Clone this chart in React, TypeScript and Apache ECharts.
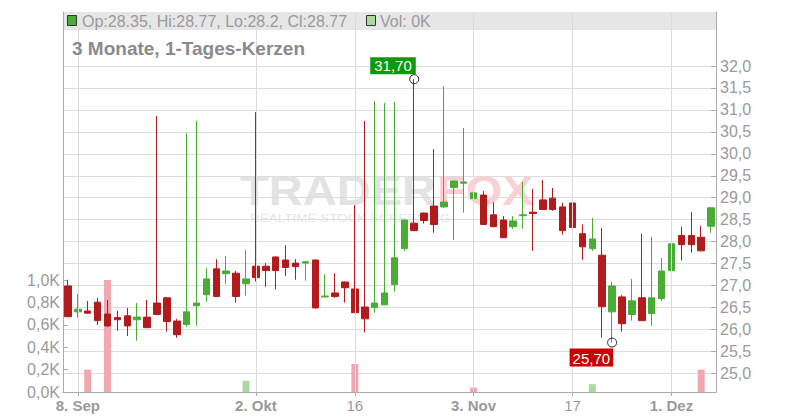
import React, { useEffect, useRef } from "react";
import * as echarts from "echarts";

// ---- data ----
const dates: string[] = [
  "2025-09-05",
  "2025-09-08", "2025-09-09", "2025-09-10", "2025-09-11", "2025-09-12",
  "2025-09-15", "2025-09-16", "2025-09-17", "2025-09-18", "2025-09-19",
  "2025-09-22", "2025-09-23", "2025-09-24", "2025-09-25", "2025-09-26",
  "2025-09-29", "2025-09-30", "2025-10-01", "2025-10-02", "2025-10-03",
  "2025-10-06", "2025-10-07", "2025-10-08", "2025-10-09", "2025-10-10",
  "2025-10-13", "2025-10-14", "2025-10-15", "2025-10-16", "2025-10-17",
  "2025-10-20", "2025-10-21", "2025-10-22", "2025-10-23", "2025-10-24",
  "2025-10-27", "2025-10-28", "2025-10-29", "2025-10-30", "2025-10-31",
  "2025-11-03", "2025-11-04", "2025-11-05", "2025-11-06", "2025-11-07",
  "2025-11-10", "2025-11-11", "2025-11-12", "2025-11-13", "2025-11-14",
  "2025-11-17", "2025-11-18", "2025-11-19", "2025-11-20", "2025-11-21",
  "2025-11-24", "2025-11-25", "2025-11-26", "2025-11-27", "2025-11-28",
  "2025-12-01", "2025-12-02", "2025-12-03", "2025-12-04", "2025-12-05",
];

const opens: number[] = [
  26.99, 26.40, 26.42, 26.62, 26.35, 26.27, 26.31, 26.22, 26.28, 26.60,
  26.72, 26.19, 26.11, 26.54, 26.79, 27.38, 27.27, 27.28, 27.04, 27.44,
  27.44, 27.65, 27.58, 27.51, 27.51, 27.58, 26.74, 26.83, 27.08, 26.92,
  26.51, 26.50, 26.56, 27.02, 27.84, 28.42, 28.65, 28.81, 28.79, 29.23,
  29.33, 28.98, 29.06, 28.61, 28.49, 28.34, 28.59, 28.67, 28.95, 28.99,
  28.79, 28.88, 28.18, 27.84, 27.69, 26.40, 26.74, 26.34, 26.72, 26.36,
  26.70, 27.34, 28.14, 28.14, 28.10, 28.35,
];
const closes: number[] = [
  26.29, 26.46, 26.37, 26.20, 26.08, 26.22, 26.08, 26.28, 26.04, 26.34,
  26.18, 25.88, 26.40, 26.60, 27.15, 26.75, 27.33, 26.75, 27.15, 27.18,
  27.34, 27.34, 27.41, 27.43, 27.54, 26.49, 26.76, 26.75, 26.95, 26.38,
  26.24, 26.60, 26.83, 27.63, 28.49, 28.25, 28.48, 28.39, 28.90, 29.38,
  29.36, 29.11, 28.39, 28.34, 28.09, 28.47, 28.61, 28.64, 28.73, 28.73,
  28.25, 28.32, 27.88, 28.06, 26.52, 26.99, 26.13, 26.65, 26.20, 26.72,
  27.33, 27.95, 27.93, 27.93, 27.79, 28.77,
];
const lows: number[] = [
  26.28, 26.27, 26.36, 26.10, 26.06, 25.97, 25.85, 25.74, 26.03, 26.33,
  25.95, 25.81, 26.06, 26.08, 26.63, 26.74, 27.04, 26.61, 26.77, 27.09,
  26.97, 26.91, 27.22, 27.13, 27.11, 26.47, 26.72, 26.72, 26.61, 26.37,
  25.93, 26.38, 26.55, 26.86, 27.79, 28.24, 28.41, 28.20, 28.77, 28.04,
  28.66, 28.86, 28.38, 28.33, 28.08, 28.29, 28.29, 27.79, 28.72, 28.70,
  28.16, 28.07, 27.59, 27.79, 25.81, 25.70, 25.95, 26.20, 26.19, 26.08,
  26.65, 27.29, 27.57, 27.75, 27.78, 28.20,
];
const highs: number[] = [
  27.13, 26.81, 26.65, 26.72, 26.67, 26.42, 26.49, 26.60, 26.67, 30.86,
  26.74, 26.24, 30.47, 30.75, 27.40, 27.60, 27.67, 27.33, 27.81, 30.95,
  27.51, 27.66, 27.92, 27.60, 27.55, 27.59, 27.26, 27.28, 27.09, 28.83,
  30.75, 31.20, 31.16, 31.18, 28.50, 31.70, 28.66, 30.11, 31.54, 29.39,
  30.59, 30.52, 29.15, 28.90, 28.58, 28.58, 29.36, 29.20, 29.40, 29.22,
  28.88, 28.90, 28.39, 28.54, 28.31, 27.08, 26.78, 27.15, 28.18, 28.11,
  27.63, 28.27, 28.34, 28.67, 28.36, 28.77,
];
// volume in thousands
const volumes: number[] = [
  0, 0, 0.2, 0, 1.0, 0, 0, 0, 0, 0,
  0, 0, 0, 0, 0, 0, 0, 0, 0.1, 0,
  0, 0, 0, 0, 0, 0, 0, 0, 0, 0.25,
  0, 0, 0, 0, 0, 0, 0, 0, 0, 0,
  0, 0.04, 0, 0, 0, 0, 0, 0, 0, 0,
  0, 0, 0, 0.07, 0, 0, 0, 0, 0, 0,
  0, 0, 0, 0, 0.2, 0,
];

const tickLabels: Record<string, string> = {
  "2025-09-08": "8. Sep",
  "2025-10-02": "2. Okt",
  "2025-10-16": "16",
  "2025-11-03": "3. Nov",
  "2025-11-17": "17",
  "2025-12-01": "1. Dez",
};
const boldTicks: string[] = ["2025-09-08", "2025-10-02", "2025-11-03", "2025-12-01"];

const highMark = { date: "2025-10-24", value: 31.7, text: "31,70" };
const lowMark = { date: "2025-11-21", value: 25.7, text: "25,70" };

const header = "Op:28.35, Hi:28.77, Lo:28.2, Cl:28.77";
const volHeader = "Vol: 0K";
const title = "3 Monate, 1-Tages-Kerzen";

// ---- styles ----
const GREEN = "#4aab35";
const RED = "#b31a1c";
const VOL_UP = "#a9dba1";
const VOL_DOWN = "#f0a7af";
const GRID_C = "#dddddd";
const AXIS_C = "#aaaaaa";
const TEXT_C = "#9a9a9a";
const FONT = "'Liberation Sans', Arial, sans-serif";

const GL = 63;
const GR = 84;

export default function App() {
  const ref = useRef<HTMLDivElement>(null);

  useEffect(() => {
    if (!ref.current) return;
    const chart = echarts.init(ref.current, undefined, { renderer: "svg" });

    const candleData = dates.map((_, i) => [opens[i], closes[i], lows[i], highs[i]]);
    const volData = volumes.map((v, i) => {
      const up = i === 0 ? closes[i] >= opens[i] : closes[i] >= closes[i - 1];
      return { value: v, itemStyle: { color: up ? VOL_UP : VOL_DOWN } };
    });
    const tickIdx = dates.map((d, i) => (tickLabels[d] ? i : -1)).filter((i) => i >= 0);

    const option: any = {
      animation: false,
      textStyle: { fontFamily: FONT },
      grid: [
        { left: GL, right: GR, top: 12, bottom: 28 },
        { left: GL, right: GR, top: 66, bottom: 420 - 373.3 },
        { left: GL, right: GR, top: 280, bottom: 28 },
      ],
      xAxis: [
        {
          type: "category",
          gridIndex: 0,
          data: dates,
          boundaryGap: true,
          axisLine: { show: true, lineStyle: { color: AXIS_C, width: 1 } },
          axisTick: {
            show: true,
            alignWithLabel: true,
            length: 4,
            interval: (i: number) => tickIdx.includes(i),
            lineStyle: { color: AXIS_C },
          },
          axisLabel: {
            show: true,
            interval: (i: number) => tickIdx.includes(i),
            margin: 6,
            color: TEXT_C,
            fontSize: 15,
            fontFamily: FONT,
            formatter: (v: string) => {
              const l = tickLabels[v];
              if (!l) return "";
              return boldTicks.includes(v) ? "{b|" + l + "}" : l;
            },
            rich: { b: { fontWeight: "bold", fontSize: 15, color: TEXT_C, fontFamily: FONT } },
          },
          splitLine: { show: false },
        },
        { type: "category", gridIndex: 1, data: dates, boundaryGap: true, show: false },
        { type: "category", gridIndex: 2, data: dates, boundaryGap: true, show: false },
      ],
      yAxis: [
        {
          type: "value", gridIndex: 0, position: "left", min: 0, max: 1,
          axisLine: { show: true, lineStyle: { color: AXIS_C } },
          axisTick: { show: false }, axisLabel: { show: false }, splitLine: { show: false },
        },
        {
          type: "value", gridIndex: 0, position: "right", min: 0, max: 1,
          axisLine: { show: true, lineStyle: { color: AXIS_C } },
          axisTick: { show: false }, axisLabel: { show: false }, splitLine: { show: false },
        },
        {
          type: "value", gridIndex: 1, position: "right", min: 25, max: 32, interval: 0.5,
          axisLine: { show: false },
          axisTick: { show: true, inside: true, length: 5, lineStyle: { color: AXIS_C } },
          axisLabel: {
            margin: 4, color: TEXT_C, fontSize: 16, fontFamily: FONT,
            formatter: (v: number) => v.toFixed(1).replace(".", ","),
          },
          splitLine: { show: true, lineStyle: { color: GRID_C, width: 1 } },
        },
        {
          type: "value", gridIndex: 2, position: "left", min: 0, max: 1, interval: 0.2,
          axisLine: { show: false },
          axisTick: { show: true, inside: true, length: 5, lineStyle: { color: AXIS_C } },
          axisLabel: {
            margin: 3, color: TEXT_C, fontSize: 16, fontFamily: FONT,
            formatter: (v: number) => v.toFixed(1).replace(".", ",") + "K",
          },
          splitLine: { show: false },
        },
      ],
      series: [
        {
          type: "line",
          xAxisIndex: 0,
          yAxisIndex: 0,
          data: [],
          z: 1,
          silent: true,
          markLine: {
            silent: true,
            symbol: ["none", "none"],
            label: { show: false },
            lineStyle: { color: GRID_C, type: "solid", width: 1 },
            data: dates.filter((d) => tickLabels[d]).map((d) => ({ xAxis: d })),
          },
        },
        {
          type: "bar",
          xAxisIndex: 2,
          yAxisIndex: 3,
          barWidth: 7,
          data: volData,
          z: 2,
        },
        {
          type: "candlestick",
          xAxisIndex: 1,
          yAxisIndex: 2,
          barWidth: 7,
          clip: false,
          z: 3,
          data: candleData,
          itemStyle: {
            color: GREEN,
            color0: RED,
            borderColor: GREEN,
            borderColor0: RED,
            borderWidth: 1,
          },
          markPoint: {
            silent: true,
            animation: false,
            data: [
              {
                coord: [highMark.date, highMark.value],
                symbol: "circle",
                symbolSize: 9,
                itemStyle: { color: "rgba(255,255,255,0)", borderColor: "#222", borderWidth: 1 },
                label: {
                  show: true,
                  formatter: highMark.text,
                  position: [-39, -17],
                  color: "#ffffff",
                  fontSize: 15,
                  lineHeight: 15,
                  fontFamily: FONT,
                  backgroundColor: "#0a9a0a",
                  padding: [1, 4, 1, 4],
                },
              },
              {
                coord: [lowMark.date, lowMark.value],
                symbol: "circle",
                symbolSize: 9,
                itemStyle: { color: "rgba(255,255,255,0)", borderColor: "#222", borderWidth: 1 },
                label: {
                  show: true,
                  formatter: lowMark.text,
                  position: [-37.5, 11],
                  color: "#ffffff",
                  fontSize: 15,
                  lineHeight: 15,
                  fontFamily: FONT,
                  backgroundColor: "#cc0000",
                  padding: [2, 3, 1, 3],
                },
              },
            ],
          },
        },
      ],
      graphic: [
        {
          type: "rect", z: 0, silent: true,
          shape: { x: GL, y: 12, width: 800 - GL - GR, height: 18 },
          style: { fill: "#e6e6e6" },
        },
        {
          type: "text", z: 0, silent: true, x: 240, y: 190, scaleX: 1.12,
          style: {
            text: "TRADER", fill: "#e3e3e3", font: "bold 42px " + FONT,
            verticalAlign: "middle", align: "left",
          },
        },
        {
          type: "text", z: 0, silent: true, x: 437, y: 190, scaleX: 1.12,
          style: {
            text: "FOX", fill: "#fbd0d5", font: "bold 42px " + FONT,
            verticalAlign: "middle", align: "left",
          },
        },
        {
          type: "text", z: 0, silent: true, x: 250, y: 219, scaleX: 1.35,
          style: {
            text: "REALTIME STOCK SCREENING", fill: "#e6e6e6", font: "10px " + FONT,
            verticalAlign: "middle", align: "left",
          },
        },
        {
          type: "rect", z: 10, silent: true,
          shape: { x: 67.5, y: 15.5, width: 9, height: 10 },
          style: { fill: GREEN, stroke: "#333", lineWidth: 1 },
        },
        {
          type: "text", z: 10, silent: true, x: 82, y: 21,
          style: { text: header, fill: TEXT_C, font: "16px " + FONT, verticalAlign: "middle" },
        },
        {
          type: "rect", z: 10, silent: true,
          shape: { x: 366.5, y: 15.5, width: 9, height: 10 },
          style: { fill: VOL_UP, stroke: "#333", lineWidth: 1 },
        },
        {
          type: "text", z: 10, silent: true, x: 380, y: 21,
          style: { text: volHeader, fill: TEXT_C, font: "16px " + FONT, verticalAlign: "middle" },
        },
        {
          type: "text", z: 10, silent: true, x: 72, y: 48,
          style: { text: title, fill: "#8a8a8a", font: "bold 19px " + FONT, verticalAlign: "middle" },
        },
      ],
    };

    chart.setOption(option);
    return () => chart.dispose();
  }, []);

  return (
    <div
      ref={ref}
      style={{ position: "fixed", left: 0, top: 0, width: 800, height: 420, background: "#fff" }}
    />
  );
}
